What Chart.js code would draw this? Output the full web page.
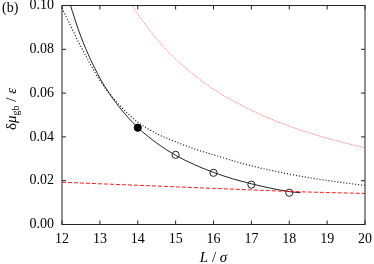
<!DOCTYPE html>
<html>
<head>
<meta charset="utf-8">
<script src="https://cdn.jsdelivr.net/npm/chart.js@4/dist/chart.umd.min.js"></script>
<style>
  html, body { margin: 0; padding: 0; background: #fff; }
  canvas { display: block; }
</style>
</head>
<body>
<canvas id="chart" width="374" height="264"></canvas>
<script>
// ---- data ----
// solid black fit curve
const solidL = [12.2, 12.5, 13, 13.5, 14, 14.5, 15, 15.5, 16, 16.5, 17, 17.5, 18, 18.3];
const solidV = [0.1013, 0.0857, 0.0669, 0.0539, 0.0443, 0.0372, 0.0316, 0.0273, 0.0238, 0.0209, 0.0186, 0.0166, 0.0150, 0.0145];

// black dotted curve
const dotL = [12, 12.5, 13, 13.5, 14, 14.5, 15, 15.5, 16, 17, 18, 19, 20];
const dotV = [0.0988, 0.0812, 0.0658, 0.0548, 0.0468, 0.0415, 0.0378, 0.0345, 0.0318, 0.0268, 0.0230, 0.0201, 0.0178];

// light red dotted curve
const redDotL = [13.8, 14, 14.5, 15, 15.5, 16, 16.5, 17, 17.5, 18, 18.5, 19, 19.5, 20];
const redDotV = [0.1017, 0.0962, 0.0847, 0.0755, 0.0681, 0.0618, 0.0566, 0.0521, 0.0483, 0.0449, 0.0420, 0.0394, 0.0371, 0.0350];

// red dashed curve
const redDashL = [12, 13, 14, 15, 16, 17, 18, 19, 20];
const redDashV = [0.0193, 0.0186, 0.0179, 0.0172, 0.0165, 0.0158, 0.0151, 0.0146, 0.0142];

// simulation points (first one filled)
const filledL = [14];
const filledV = [0.0442];
const openL = [15, 16, 17, 18];
const openV = [0.0318, 0.0236, 0.0182, 0.0145];

// axis ticks
const xTicks = [12, 13, 14, 15, 16, 17, 18, 19, 20];
const yTicks = [0, 0.02, 0.04, 0.06, 0.08, 0.10];

const SERIF = "'Liberation Serif', 'Times New Roman', serif";

const toXY = (xs, ys) => xs.map((x, i) => ({ x: x, y: ys[i] }));

function curve(xs, ys, color, dash, width) {
    return {
        type: 'line',
        data: toXY(xs, ys),
        borderColor: color,
        borderWidth: width,
        borderDash: dash,
        pointRadius: 0,
        fill: false,
        cubicInterpolationMode: 'monotone'
    };
}

// frame, inward ticks and axis titles, gnuplot style
const framePlugin = {
    id: 'frame',
    afterDraw(chart) {
        const ctx = chart.ctx;
        const a = chart.chartArea;
        const xs = chart.scales.x;
        const ys = chart.scales.y;
        ctx.save();
        ctx.strokeStyle = '#222';
        ctx.lineWidth = 1;
        ctx.strokeRect(a.left, a.top, a.right - a.left, a.bottom - a.top);
        ctx.beginPath();
        xTicks.forEach(v => {
            const px = xs.getPixelForValue(v);
            ctx.moveTo(px, a.bottom); ctx.lineTo(px, a.bottom - 4);
            ctx.moveTo(px, a.top); ctx.lineTo(px, a.top + 4);
        });
        yTicks.forEach(v => {
            const py = ys.getPixelForValue(v);
            ctx.moveTo(a.left, py); ctx.lineTo(a.left + 4, py);
            ctx.moveTo(a.right, py); ctx.lineTo(a.right - 4, py);
        });
        ctx.stroke();

        ctx.fillStyle = '#000';
        ctx.textBaseline = 'middle';

        // panel label
        ctx.font = '14px ' + SERIF;
        ctx.textAlign = 'left';
        ctx.fillText('(b)', 2, 8);

        // x title: L / sigma
        const xParts = [
            { t: 'L', f: 'italic 15px ' + SERIF, dy: 0 },
            { t: ' / ', f: '15px ' + SERIF, dy: 0 },
            { t: 'σ', f: 'italic 15px ' + SERIF, dy: 0 }
        ];
        drawParts(ctx, xParts, (a.left + a.right) / 2, 258);

        // y title: delta mu_gb / epsilon (rotated)
        ctx.translate(12, 109);
        ctx.rotate(-Math.PI / 2);
        const yParts = [
            { t: 'δ', f: '15px ' + SERIF, dy: 0 },
            { t: 'μ', f: 'italic 15px ' + SERIF, dy: 0 },
            { t: 'gb', f: '10px ' + SERIF, dy: 4 },
            { t: ' / ', f: '15px ' + SERIF, dy: 0 },
            { t: 'ε', f: 'italic 15px ' + SERIF, dy: 0 }
        ];
        drawParts(ctx, yParts, 0, 0);
        ctx.restore();
    }
};

function drawParts(ctx, parts, cx, cy) {
    let total = 0;
    parts.forEach(p => { ctx.font = p.f; p.w = ctx.measureText(p.t).width; total += p.w; });
    let x = cx - total / 2;
    ctx.textAlign = 'left';
    parts.forEach(p => {
        ctx.font = p.f;
        ctx.fillText(p.t, x, cy + p.dy);
        x += p.w;
    });
}

const ctx = document.getElementById('chart').getContext('2d');
new Chart(ctx, {
    type: 'line',
    data: {
        datasets: [
            curve(redDotL, redDotV, 'rgba(255, 70, 70, 0.65)', [1.5, 1], 1),
            curve(redDashL, redDashV, '#ff1a1a', [4, 2], 1),
            curve(dotL, dotV, '#111', [1, 2], 1.2),
            curve(solidL, solidV, '#222', [], 1),
            {
                type: 'scatter',
                data: toXY(filledL, filledV),
                pointRadius: 3.6,
                pointBackgroundColor: '#000',
                pointBorderColor: '#000',
                pointBorderWidth: 1
            },
            {
                type: 'scatter',
                data: toXY(openL, openV),
                pointRadius: 3.6,
                pointBackgroundColor: 'rgba(0,0,0,0)',
                pointBorderColor: '#222',
                pointBorderWidth: 1
            }
        ]
    },
    options: {
        responsive: false,
        animation: false,
        events: [],
        layout: { padding: { top: 5.5, right: 9, left: 0, bottom: 0 } },
        plugins: {
            legend: { display: false },
            tooltip: { enabled: false }
        },
        scales: {
            x: {
                type: 'linear',
                min: 12,
                max: 20,
                grid: { display: false, drawTicks: false },
                border: { display: false },
                ticks: {
                    stepSize: 1,
                    padding: 6,
                    color: '#000',
                    font: { family: SERIF, size: 14 },
                    maxRotation: 0,
                    callback: v => String(v)
                },
                afterFit(scale) {
                    scale.height = 39.5;
                    scale.paddingLeft = 0;
                    scale.paddingRight = 0;
                }
            },
            y: {
                type: 'linear',
                min: 0,
                max: 0.1,
                grid: { display: false, drawTicks: false },
                border: { display: false },
                ticks: {
                    stepSize: 0.02,
                    padding: 8,
                    color: '#000',
                    font: { family: SERIF, size: 14 },
                    callback: v => v.toFixed(2)
                },
                afterFit(scale) {
                    scale.width = 62;
                    scale.paddingTop = 0;
                    scale.paddingBottom = 0;
                }
            }
        }
    },
    plugins: [framePlugin]
});
</script>
</body>
</html>
